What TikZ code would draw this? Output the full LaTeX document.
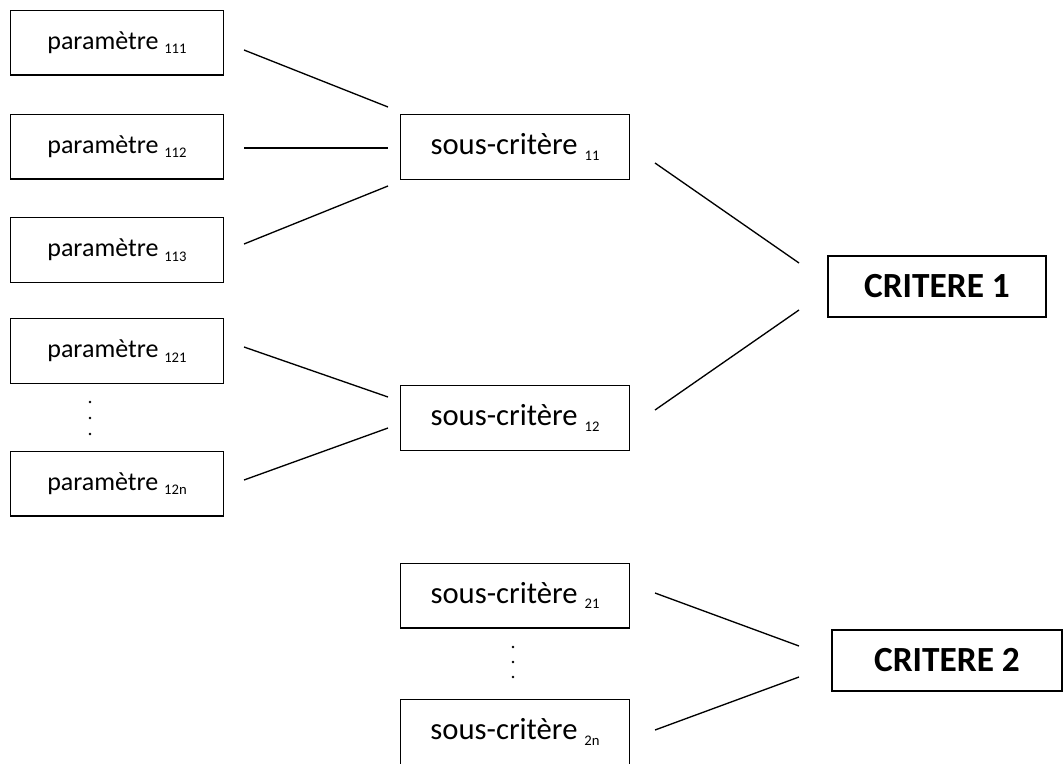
\documentclass[tikz,border=0pt]{standalone}
\usepackage{fontspec}
\setmainfont{Carlito}
\usepackage{tikz}

% small lowered index after a label
\newcommand{\idx}[2]{\raisebox{-#2}{\fontsize{11pt}{11pt}\selectfont #1}}

\tikzset{
	parbox/.style={draw, line width=1pt, minimum width=160pt, minimum height=48.5pt, inner sep=0pt, font=\fontsize{19.5pt}{20pt}\selectfont},
	scbox/.style={draw, line width=1pt, minimum width=171.5pt, minimum height=48.5pt, inner sep=0pt, font=\fontsize{23pt}{24pt}\selectfont},
	critbox/.style={draw, line width=1.5pt, minimum height=45.5pt, inner sep=0pt, font=\fontsize{26.5pt}{27pt}\selectfont\bfseries},
	link/.style={line width=1pt}
}

\begin{document}
\begin{tikzpicture}[x=0.75pt, y=-0.75pt]
	\useasboundingbox (0,0) rectangle (1064,764);
	% parametres
	\node[parbox] (p111) at (117,42.5) {paramètre \idx{111}{3.5pt}};
	\node[parbox] (p112) at (117,146.5) {paramètre \idx{112}{3.5pt}};
	\node[parbox] (p113) at (117,250) {paramètre \idx{113}{3.5pt}};
	\node[parbox] (p121) at (117,351) {paramètre \idx{121}{3.5pt}};
	\node[parbox] (p12n) at (117,483.5) {paramètre \idx{12n}{3.5pt}};
	\foreach \y in {402,418,434} {
		\fill (90,\y) circle (1pt);
	}
	% sous-criteres
	\node[scbox] (sc11) at (515,147) {sous-critère \idx{11}{4pt}};
	\node[scbox] (sc12) at (515,418) {sous-critère \idx{12}{4pt}};
	\node[scbox] (sc21) at (515,595.5) {sous-critère \idx{21}{4pt}};
	\node[scbox] (sc2n) at (515,732) {sous-critère \idx{2n}{4pt}};
	\foreach \y in {647,662,677} {
		\fill (513,\y) circle (1pt);
	}
	% criteres
	\node[critbox, minimum width=163.5pt] (c1) at (937,286.5) {CRITERE 1};
	\node[critbox, minimum width=173pt] (c2) at (947,660.5) {CRITERE 2};

	% free ends of the links
	\coordinate (a1) at (244,50);   \coordinate (b1) at (388,107);
	\coordinate (a2) at (244,148);  \coordinate (b2) at (388,148);
	\coordinate (a3) at (244,244);  \coordinate (b3) at (388,186);
	\coordinate (a4) at (244,347);  \coordinate (b4) at (388,397);
	\coordinate (a5) at (244,480);  \coordinate (b5) at (388,428);
	\coordinate (a6) at (655,163);  \coordinate (b6) at (799,263);
	\coordinate (a7) at (655,410);  \coordinate (b7) at (799,310);
	\coordinate (a8) at (655,593);  \coordinate (b8) at (799,646);
	\coordinate (a9) at (655,730);  \coordinate (b9) at (799,677);
	\foreach \i in {1,...,9} {
		\draw[link] (a\i) -- (b\i);
	}
\end{tikzpicture}
\end{document}
